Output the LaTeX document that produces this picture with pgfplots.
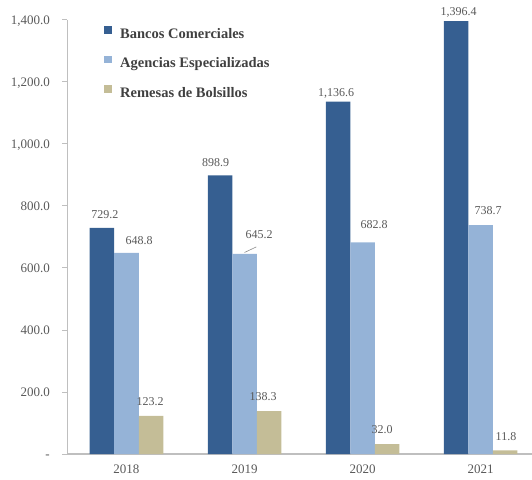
\documentclass[border=0pt]{standalone}
\usepackage{fontspec}
\setmainfont{Liberation Serif}
\usepackage{pgfplots}
\usepackage{pgfplotstable}
\pgfplotsset{compat=1.18}

\definecolor{bancos}{RGB}{54,95,145}
\definecolor{agencias}{RGB}{149,179,215}
\definecolor{remesas}{RGB}{196,189,151}
\definecolor{axisgray}{RGB}{191,191,191}
\definecolor{labelgray}{RGB}{89,89,89}
\definecolor{legendgray}{RGB}{64,64,64}

% x = year index, y = value, dx/dy = label offset (pt) from bar top
\pgfplotstableread{
x y dx dy
0 729.2 3 13.5
1 898.9 -4.5 13
2 1136.6 -2 8.5
3 1396.4 2.5 9
}\bancos
\pgfplotstableread{
x y dx dy
0 648.8 12.5 12
1 645.2 14.5 19
2 682.8 11.5 18
3 738.7 7.5 14.5
}\agencias
\pgfplotstableread{
x y dx dy
0 123.2 -1 14
1 138.3 -6 15
2 32.0 -5 14
3 11.8 1 14
}\remesas

\begin{document}
\begin{tikzpicture}
\path[use as bounding box] (-67.5pt,-25pt) rectangle (464.5pt,454pt);
\begin{axis}[
    scale only axis,
    width=472pt, height=434pt,
    xmin=-0.5, xmax=3.5,
    ymin=0, ymax=1400,
    clip=false,
    ybar=0pt, bar width=24.5pt,
    axis lines*=left,
    axis line style={draw=axisgray, line width=1.2pt},
    xtick={0,1,2,3},
    xticklabels={2018,2019,2020,2021},
    x tick style={draw=none},
    xticklabel style={anchor=north, inner sep=0pt, yshift=-6pt,
        font=\fontsize{13}{13}\selectfont, text=labelgray},
    ytick={0,200,...,1400},
    yticklabels={{-\hspace{8pt}},200.0,400.0,600.0,800.0,{1,000.0},{1,200.0},{1,400.0}},
    y tick style={draw=axisgray, line width=1pt},
    tick align=outside,
    major tick length=5pt,
    yticklabel style={anchor=east, inner sep=0pt, xshift=-12.5pt,
        text height=8.7pt, text depth=0pt,
        font=\fontsize{13}{13}\selectfont, text=labelgray},
    point meta=y,
    nodes near coords={\pgfmathprintnumber[fixed, fixed zerofill, precision=1,
        1000 sep={,}, assume math mode=true]{\pgfplotspointmeta}},
    nodes near coords align=center,
    visualization depends on={\thisrow{dx} \as \dx},
    visualization depends on={\thisrow{dy} \as \dy},
    nodes near coords style={anchor=center, xshift=\dx pt, yshift=\dy pt,
        inner sep=0pt, font=\fontsize{12}{12}\selectfont, text=labelgray},
    legend image code/.code={\fill[#1] (0pt,0.3pt) rectangle (8pt,8pt);},
    legend cell align=left,
    legend style={at={(rel axis cs:0,1)}, anchor=north west,
        xshift=36.5pt, yshift=-6pt, draw=none, fill=none,
        inner sep=0pt, row sep=15.7pt, column sep=8pt,
        font=\fontsize{14.5}{14.5}\selectfont\bfseries, text=legendgray,
        nodes={inner sep=0pt}},
]
\addplot[fill=bancos, draw=none] table[x=x, y=y] {\bancos};
\addlegendentry{Bancos Comerciales}
\addplot[fill=agencias, draw=none] table[x=x, y=y] {\agencias};
\addlegendentry{Agencias Especializadas}
\addplot[fill=remesas, draw=none] table[x=x, y=y] {\remesas};
\addlegendentry{Remesas de Bolsillos}
% leader line for 645.2
\draw[labelgray!70, line width=0.6pt] (axis cs:1.0,650) -- (axis cs:1.1,668);
\end{axis}
\end{tikzpicture}
\end{document}
